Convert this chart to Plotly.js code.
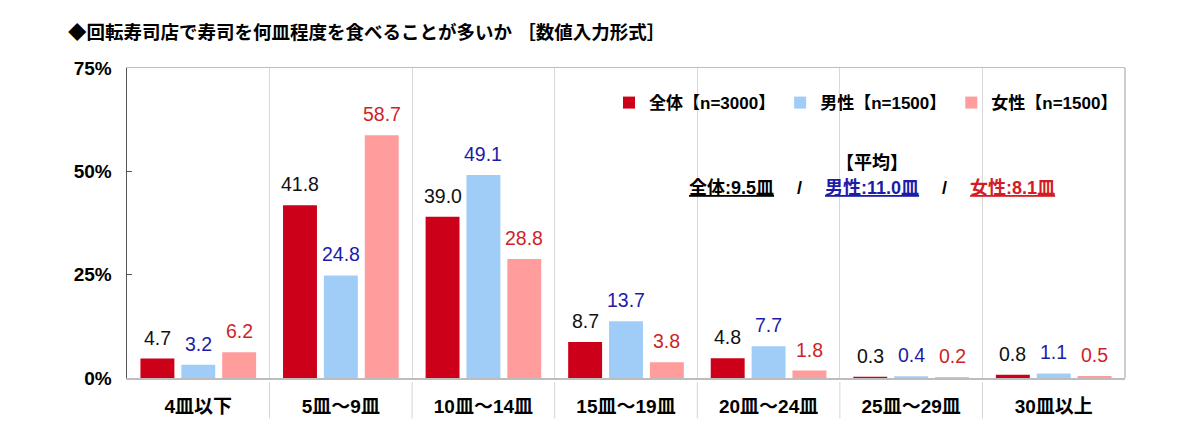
<!DOCTYPE html>
<html>
<head>
<meta charset="utf-8">
<script src="https://cdn.plot.ly/plotly-3.0.1.min.js"></script>
<style>html,body{margin:0;padding:0;background:#fff;}#chart{width:1200px;height:447px;}</style>
</head>
<body>
<div id="chart"></div>
<script>
const categories = ['4皿以下', '5皿～9皿', '10皿～14皿', '15皿～19皿', '20皿～24皿', '25皿～29皿', '30皿以上'];
const seriesNames = ['全体【n=3000】', '男性【n=1500】', '女性【n=1500】'];
const allValues = [4.7, 41.8, 39.0, 8.7, 4.8, 0.3, 0.8];
const maleValues = [3.2, 24.8, 49.1, 13.7, 7.7, 0.4, 1.1];
const femaleValues = [6.2, 58.7, 28.8, 3.8, 1.8, 0.2, 0.5];
const yTicks = [0, 25, 50, 75];

const FONT = '"Liberation Sans", Arial, "Noto Sans CJK JP", sans-serif';
const barColors = ['#cc0018', '#9fcdf8', '#ff9c9c'];
const labelColors = ['#111111', '#1c1ca8', '#cf1f28'];
const seriesValues = [allValues, maleValues, femaleValues];

const traces = seriesValues.map((vals, i) => ({
  type: 'bar',
  name: seriesNames[i],
  x: categories,
  y: vals,
  marker: {color: barColors[i]},
  hoverinfo: 'none'
}));

const bargap = 0.14;
const plotW = 1200 - 127 - 75;
const slot = plotW / categories.length * (1 - bargap) / 3;

const annotations = [];
seriesValues.forEach((vals, i) => {
  vals.forEach((v, j) => {
    annotations.push({
      x: categories[j], y: v, xref: 'x', yref: 'y',
      xshift: (i - 1) * slot, yshift: 8,
      xanchor: 'center', yanchor: 'bottom', showarrow: false,
      text: v.toFixed(1),
      font: {family: FONT, size: 19.5, color: labelColors[i]}
    });
  });
});

annotations.push({
  xref: 'paper', yref: 'paper', x: 0.746, y: 0.694, xanchor: 'center', yanchor: 'middle', showarrow: false,
  text: '<b>【平均】</b>', font: {family: FONT, size: 18, color: '#000'}
});
annotations.push({
  xref: 'paper', yref: 'paper', x: 0.746, y: 0.613, xanchor: 'center', yanchor: 'middle', showarrow: false,
  text: '<b><u>全体:9.5皿</u>　 /　 <span style="color:#1c1ca8"><u>男性:11.0皿</u></span>　 /　 <span style="color:#d41c24"><u>女性:8.1皿</u></span></b>',
  font: {family: FONT, size: 18, color: '#000'}
});

const shapes = [];
for (let j = 0; j < categories.length - 1; j++) {
  shapes.push({
    type: 'line', xref: 'x', yref: 'paper',
    x0: j + 0.5, x1: j + 0.5, y0: -0.013, y1: -0.13,
    line: {color: '#d4d4d4', width: 1}
  });
}
shapes.push({
  type: 'line', xref: 'paper', yref: 'paper', x0: 1, x1: 1, y0: 0, y1: 1,
  line: {color: '#bdbdbd', width: 1.5}
});

const layout = {
  width: 1200, height: 447,
  margin: {l: 127, r: 75, t: 68, b: 69},
  paper_bgcolor: '#fff', plot_bgcolor: '#fff',
  font: {family: FONT, color: '#000'},
  title: {
    text: '<b>◆回転寿司店で寿司を何皿程度を食べることが多いか ［数値入力形式］</b>',
    font: {family: FONT, size: 18.5, color: '#000'},
    xref: 'container', yref: 'container',
    x: 68 / 1200, xanchor: 'left', y: 1 - 33 / 447, yanchor: 'middle'
  },
  barmode: 'group',
  bargap: bargap,
  bargroupgap: 0.17,
  showlegend: true,
  legend: {
    orientation: 'h', xref: 'paper', yref: 'paper',
    x: 0.998, xanchor: 'right', y: 0.887, yanchor: 'middle',
    font: {family: FONT, size: 17, color: '#000', weight: 'bold'},
    bgcolor: 'rgba(0,0,0,0)', itemclick: false, itemdoubleclick: false,
    traceorder: 'normal'
  },
  xaxis: {
    type: 'category',
    tickson: 'boundaries',
    showgrid: true, gridcolor: '#d8d8d8', gridwidth: 1,
    showline: true, linecolor: '#bdbdbd', linewidth: 1.5, mirror: true,
    ticks: '', ticklabelstandoff: 11,
    tickfont: {family: FONT, size: 19, color: '#000', weight: 'bold'},
    fixedrange: true, zeroline: false
  },
  yaxis: {
    range: [0, 75],
    tickvals: yTicks,
    ticktext: yTicks.map(t => t + '%'),
    ticks: 'inside', ticklen: 5, tickcolor: '#555',
    showline: true, linecolor: '#555', linewidth: 1.5,
    showgrid: false, zeroline: false,
    ticklabelstandoff: 10,
    tickfont: {family: FONT, size: 19, color: '#000', weight: 'bold'},
    fixedrange: true
  },
  annotations: annotations,
  shapes: shapes
};

Plotly.newPlot('chart', traces, layout, {staticPlot: true, displayModeBar: false});
</script>
</body>
</html>
